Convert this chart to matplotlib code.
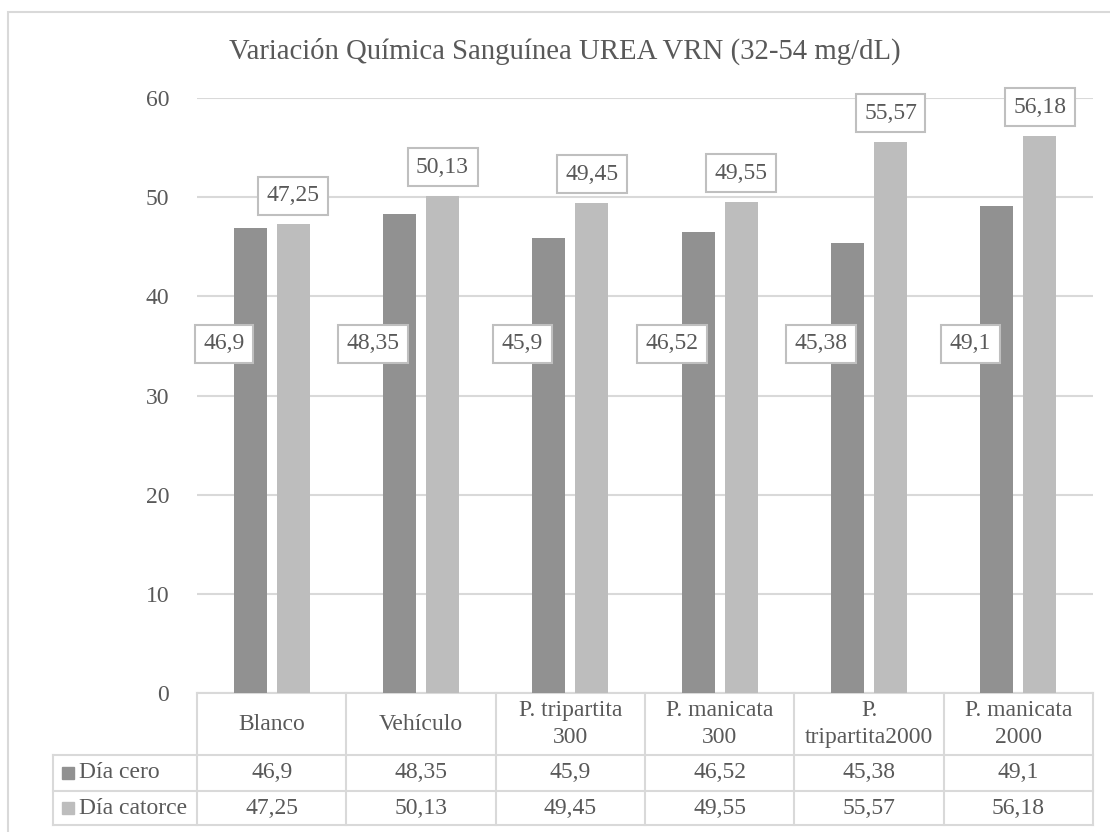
import matplotlib.pyplot as plt
import matplotlib.transforms as mtransforms
from matplotlib.patches import Rectangle
import numpy as np

# ---- Data ----
grupos = ["Blanco", "Vehículo", "P. tripartita\n300", "P. manicata\n300",
          "P.\ntripartita2000", "P. manicata\n2000"]
series = ["Día cero", "Día catorce"]
dia_cero = [46.9, 48.35, 45.9, 46.52, 45.38, 49.1]
dia_catorce = [47.25, 50.13, 49.45, 49.55, 55.57, 56.18]
y_ticks = [0, 10, 20, 30, 40, 50, 60]

col_cero = "#919191"
col_catorce = "#bdbdbd"
txt_col = "#595959"
grid_col = "#d9d9d9"

plt.rcParams["font.family"] = ["Liberation Serif", "DejaVu Serif"]

def fmt(v):
    # decimal comma, no trailing zeros
    return f"{v:g}".replace(".", ",")

W, H = 1110, 832
fig = plt.figure(figsize=(W / 100, H / 100), dpi=100)
ax = fig.add_axes([197 / W, 1 - 693 / H, 896 / W, 595 / H])

x = np.arange(len(grupos))
bw = 0.22
off = 0.144
ax.bar(x - off, dia_cero, bw, color=col_cero, zorder=3)
ax.bar(x + off, dia_catorce, bw, color=col_catorce, zorder=3)

ax.set_xlim(-0.5, len(grupos) - 0.5)
ax.set_ylim(0, 60)
ax.set_yticks(y_ticks)
ax.set_xticks([])
ax.yaxis.grid(True, color=grid_col, linewidth=1.5, zorder=0)
for s in ax.spines.values():
    s.set_visible(False)
ax.tick_params(axis="y", length=0, pad=20, labelsize=17, labelcolor=txt_col)

box = dict(boxstyle="square,pad=0.36", fc="white", ec="#bfbfbf", lw=1.5)

# Día catorce labels above the bars
for xi, v in zip(x, dia_catorce):
    ax.annotate(fmt(v), (xi + off, v), xytext=(0, 13), textcoords="offset points",
                ha="center", va="bottom", fontsize=17, color=txt_col, bbox=box, zorder=5)

# Día cero labels sit beside the dark bars
for xi, v in zip(x, dia_cero):
    ax.annotate(fmt(v), (xi - off, 35.2), xytext=(-19, 0), textcoords="offset points",
                ha="center", va="center", fontsize=17, color=txt_col, bbox=box, zorder=5)

fig.text(565 / W, 1 - 59 / H, "Variación Química Sanguínea UREA VRN (32-54 mg/dL)",
         ha="center", va="baseline", fontsize=20.7, color=txt_col)

# ---- Data table under the axis ----
tr = mtransforms.blended_transform_factory(ax.transData, ax.transAxes)
px = 1 / 595
y_head = -62 * px
y_r1 = -98 * px
y_r2 = -132 * px
x_left = -0.5 + (53 - 197) / 896 * len(grupos)
x_right = len(grupos) - 0.5

lk = dict(color=grid_col, lw=1.5, transform=tr, clip_on=False, zorder=1)
ax.plot([-0.5, x_right], [0, 0], **lk)
for yy in (y_head, y_r1, y_r2):
    ax.plot([x_left, x_right], [yy, yy], **lk)
for b in np.arange(len(grupos) + 1) - 0.5:
    ax.plot([b, b], [0, y_r2], **lk)
ax.plot([x_left, x_left], [y_head, y_r2], **lk)

for xi, g in zip(x, grupos):
    ax.text(xi, y_head / 2, g, transform=tr, ha="center", va="center",
            fontsize=17, color=txt_col, linespacing=1.35)

rows = [dia_cero, dia_catorce]
colors = [col_cero, col_catorce]
ys = [(y_head + y_r1) / 2, (y_r1 + y_r2) / 2]
x_sq = -0.5 + (68 - 197) / 896 * len(grupos)
x_lab = -0.5 + (79 - 197) / 896 * len(grupos)
for name, vals, c, yy in zip(series, rows, colors, ys):
    ax.plot([x_sq], [yy], marker="s", markersize=9, color=c, transform=tr,
            clip_on=False, linestyle="none")
    ax.text(x_lab, yy, name, transform=tr, ha="left", va="center",
            fontsize=17, color=txt_col)
    for xi, v in zip(x, vals):
        ax.text(xi, yy, fmt(v), transform=tr, ha="center", va="center",
                fontsize=17, color=txt_col)

# outer chart frame
fig.patches.append(Rectangle((8 / W, -0.05), 1.1, 1 - 12 / H + 0.05,
                             transform=fig.transFigure, fill=False,
                             ec=grid_col, lw=1.5))

fig.savefig("out.png", dpi=100)
